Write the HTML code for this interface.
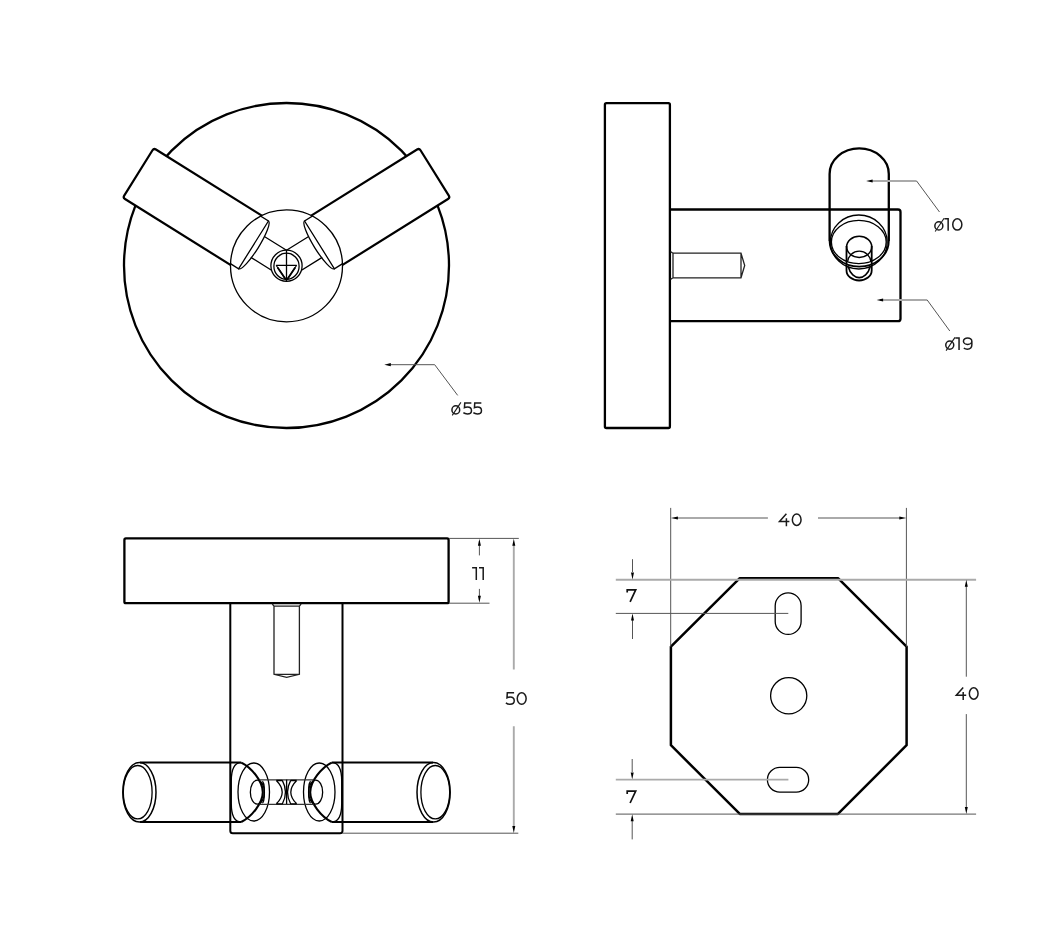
<!DOCTYPE html>
<html><head><meta charset="utf-8">
<style>
html,body{margin:0;padding:0;background:#fff;}
body{width:1045px;height:939px;overflow:hidden;}
svg{display:block;}
text{font-family:"Liberation Sans",sans-serif;fill:#1a1a1a;}
.k{fill:none;stroke:#000;stroke-width:2.3;stroke-linejoin:round;}
.t{fill:none;stroke:#000;stroke-width:1.3;}
.g{fill:none;stroke:#555;stroke-width:1;}
.lg{fill:none;stroke:#aaa;stroke-width:1.9;}
.ah{fill:#000;stroke:none;}
</style></head>
<body>
<svg width="1045" height="939" viewBox="0 0 1045 939">
<defs>
  <clipPath id="inC"><circle cx="286.5" cy="265.8" r="56"/></clipPath>
</defs>

<!-- ============ VIEW 1: top-left ============ -->
<circle class="k" cx="286.5" cy="265.5" r="162.5"/>
<g transform="translate(286.5,265.5) rotate(32)"><path class="k" style="fill:#fff;stroke-width:2.2" d="M-172.2,-29.2 L-38.9,-29.2 L-38.9,29.2 L-172.2,29.2 Q-174.7,29.2 -174.7,26.7 L-174.7,-26.7 Q-174.7,-29.2 -172.2,-29.2 Z"/></g>
<g transform="translate(573,0) scale(-1,1) translate(286.5,265.5) rotate(32)"><path class="k" style="fill:#fff;stroke-width:2.2" d="M-172.2,-29.2 L-38.9,-29.2 L-38.9,29.2 L-172.2,29.2 Q-174.7,29.2 -174.7,26.7 L-174.7,-26.7 Q-174.7,-29.2 -172.2,-29.2 Z"/></g>
<circle cx="286.5" cy="265.8" r="56" fill="#fff"/>
<g clip-path="url(#inC)">
<g transform="translate(286.5,265.5) rotate(32)"><path class="t" d="M-80,-28.15 L-38.9,-28.15 L-38.9,28.15 L-80,28.15"/>
    <path class="t" d="M-38.9,-28.15 A5.5,28.15 0 0 1 -38.9,28.15"/>
    <path class="t" d="M-34.2,-12.9 L0,-12.9 M-34.6,12.0 L-5,12.0"/></g>
<g transform="translate(573,0) scale(-1,1) translate(286.5,265.5) rotate(32)"><path class="t" d="M-80,-28.15 L-38.9,-28.15 L-38.9,28.15 L-80,28.15"/>
    <path class="t" d="M-38.9,-28.15 A5.5,28.15 0 0 1 -38.9,28.15"/>
    <path class="t" d="M-34.2,-12.9 L0,-12.9 M-34.6,12.0 L-5,12.0"/></g>
</g>
<circle class="t" cx="286.5" cy="265.8" r="56"/>
<circle class="t" fill="#fff" style="fill:#fff" cx="286.5" cy="265.7" r="15.6"/>
<ellipse class="t" cx="286.5" cy="266.3" rx="12.6" ry="13.1"/>
<path class="t" d="M286.5,250 V280.6 M276.1,265.3 H296.7"/>
<path class="t" style="stroke-width:1.1" d="M276.1,265.3 L286.4,280.4 L296.7,265.3"/>
<path style="fill:none;stroke:#000;stroke-width:1.8" d="M277.6,267.6 L285.8,279.6 M295.2,267.6 L287.2,279.6"/>
<!-- leader o55 -->
<path class="g" d="M388,364.7 H434.7 L457.7,395.4"/>
<path class="ah" d="M384.3,364.7 L390.8,363.1 L390.8,366.3 Z"/>
<path style="fill:none;stroke:#1a1a1a;stroke-width:1.5;stroke-linecap:butt;stroke-linejoin:miter" d="M451.93,409.89 A3.88,4.02 0 1 1 459.69,409.89 A3.88,4.02 0 1 1 451.93,409.89 Z M 471.34,402.94 L 464.74,402.94 L 464.45,407.69 C 465.42,407.2 466.39,407 467.46,407 C 469.98,407 471.48,408.47 471.48,410.63 C 471.48,412.78 469.79,413.91 467.36,413.91 C 465.81,413.91 464.45,413.47 463.38,412.59 M 481.34,402.94 L 474.74,402.94 L 474.45,407.69 C 475.42,407.2 476.39,407 477.46,407 C 479.98,407 481.48,408.47 481.48,410.63 C 481.48,412.78 479.79,413.91 477.36,413.91 C 475.81,413.91 474.45,413.47 473.38,412.59"/><path style="fill:none;stroke:#1a1a1a;stroke-width:1.1" d="M 460.9,402.4 L 452.27,415.33"/>

<!-- ============ VIEW 2: top-right side ============ -->
<path class="k" d="M606.4,103.2 H668.4 Q669.9,103.2 669.9,104.7 V426.5 Q669.9,428 668.4,428 H606.4 Q604.9,428 604.9,426.5 V104.7 Q604.9,103.2 606.4,103.2 Z"/>
<path class="k" d="M669.9,209.5 H898 Q900.5,209.5 900.5,212 V318.7 Q900.5,321.2 898,321.2 H669.9"/>
<!-- screw -->
<path class="t" style="stroke:#222;stroke-width:1.3" d="M670.5,251.6 L673,253.2 H741 L744.7,265.5 L741,277.8 H673 L670.5,279.4 M673,253.2 V277.8 M741,253.2 V277.8"/>
<!-- cylinder o10 -->
<path class="k" d="M829.6,241 V174 A29.6,25.6 0 0 1 888.8,174 V241"/>
<path class="t" style="stroke-width:1.8" d="M829.6,241 A29.6,25.6 0 0 0 888.8,241"/>
<ellipse class="t" cx="858.8" cy="242" rx="28.4" ry="27"/>
<ellipse class="t" cx="858.8" cy="242" rx="27.4" ry="21.6"/>
<ellipse class="t" style="stroke-width:1.5" cx="859.2" cy="246.8" rx="12.55" ry="10.6"/>
<path class="t" style="stroke-width:1.8" d="M846.5,246 V270.5 A12.6,10 0 0 0 871.7,270.5 V246"/>
<path class="t" d="M847.5,262 A11.8,12 0 0 1 871,262"/>
<path class="t" style="stroke-width:1.6" d="M848.2,266.5 C850,274 855,277.6 859.2,277.6 C863.4,277.6 868.4,274 870.2,266.5"/>
<!-- leaders -->
<path class="lg" d="M870,181 H916.6"/><path class="g" d="M916.6,181 L939.5,212"/>
<path class="ah" d="M866.1,181.0 L872.6,179.4 L872.6,182.6 Z"/>
<path style="fill:none;stroke:#1a1a1a;stroke-width:1.5;stroke-linecap:butt;stroke-linejoin:miter" d="M934.85,225.95 A4,4.1 0 1 1 942.85,225.95 A4,4.1 0 1 1 934.85,225.95 Z M 944.4,218.85 L 948.15,218.85 L 948.15,230.8 M952.75,224.45 A4.55,5.6 0 1 1 961.85,224.45 A4.55,5.6 0 1 1 952.75,224.45 Z"/><path style="fill:none;stroke:#1a1a1a;stroke-width:1.1" d="M 944.1,218.3 L 935.2,231.5"/>
<path class="lg" d="M880,300 H927.2"/><path class="g" d="M927.2,300 L949.8,331"/>
<path class="ah" d="M876.6,300.0 L883.1,298.4 L883.1,301.6 Z"/>
<path style="fill:none;stroke:#1a1a1a;stroke-width:1.5;stroke-linecap:butt;stroke-linejoin:miter" d="M945.75,345.05 A4,4.1 0 1 1 953.75,345.05 A4,4.1 0 1 1 945.75,345.05 Z M 955.3,337.95 L 959.05,337.95 L 959.05,349.9 M 971.85,341.2 A 4.2,3.25 0 1 0 963.45,341.2 A4.2,3.25 0 1 0 971.85,341.2 V344.8 C 971.85,347.6 970,349.15 967.3,349.15 C 966,349.15 964.8,348.8 963.8,348.2"/><path style="fill:none;stroke:#1a1a1a;stroke-width:1.1" d="M 955,337.4 L 946.1,350.6"/>

<!-- ============ VIEW 3: bottom-left front ============ -->
<path class="k" d="M125.9,538.4 H447.1 Q448.6,538.4 448.6,539.9 V601.7 Q448.6,603.2 447.1,603.2 H125.9 Q124.4,603.2 124.4,601.7 V539.9 Q124.4,538.4 125.9,538.4 Z"/>
<path class="k" style="stroke-width:2" d="M230.3,603.2 V830.8 Q230.3,833.3 232.8,833.3 H340 Q342.5,833.3 342.5,830.8 V603.2"/>
<!-- screw -->
<path class="t" style="stroke:#222;stroke-width:1.3" d="M272.3,604 L274,606.2 H299.4 L301.1,604 M274,606.2 V674.3 L286.7,677.4 L299.4,674.3 V606.2 M274,674.3 H299.4"/>
<!-- left cylinder -->
<g id="cylL">
<path class="k" style="stroke-width:2" d="M140,762.6 H241.2 M140,822 H241.2"/>
<ellipse class="t" style="stroke-width:1.5" cx="139.4" cy="792.3" rx="16.6" ry="29.7"/>
<ellipse class="t" cx="137.7" cy="792.2" rx="14.4" ry="26.7"/>
<path class="t" d="M241.2,762.6 C234,762.6 231.3,770 231.3,781 V803.5 C231.3,814.5 234,822 241.2,822"/>
<path class="k" style="stroke-width:2.1" d="M241.2,762.6 C251.5,767.5 262.8,781.5 262.8,792.3 C262.8,803.1 251.5,817 241.2,822"/>
<ellipse class="t" cx="253.75" cy="792" rx="15.75" ry="29"/>
<ellipse class="t" cx="257.35" cy="792.15" rx="7" ry="12"/>
<path class="t" style="stroke-width:1.3" d="M262.2,781.5 A2.2,10.7 0 0 1 262.2,802.9"/>
<path class="t" style="stroke:#333" d="M259.5,779.9 H286.5 M259.5,804.4 H286.5"/>
<path class="t" style="stroke-width:1.3" d="M276.3,780.5 Q288.1,792.2 276.3,803.8 M282.3,780.4 Q288.7,792.2 282.3,804 M276.3,780.5 H282.3 M276.3,803.8 H282.3"/>
</g>
<g transform="translate(573,0) scale(-1,1)"><path class="k" style="stroke-width:2" d="M140,762.6 H241.2 M140,822 H241.2"/>
<ellipse class="t" style="stroke-width:1.5" cx="139.4" cy="792.3" rx="16.6" ry="29.7"/>
<ellipse class="t" cx="137.7" cy="792.2" rx="14.4" ry="26.7"/>
<path class="t" d="M241.2,762.6 C234,762.6 231.3,770 231.3,781 V803.5 C231.3,814.5 234,822 241.2,822"/>
<path class="k" style="stroke-width:2.1" d="M241.2,762.6 C251.5,767.5 262.8,781.5 262.8,792.3 C262.8,803.1 251.5,817 241.2,822"/>
<ellipse class="t" cx="253.75" cy="792" rx="15.75" ry="29"/>
<ellipse class="t" cx="257.35" cy="792.15" rx="7" ry="12"/>
<path class="t" style="stroke-width:1.3" d="M262.2,781.5 A2.2,10.7 0 0 1 262.2,802.9"/>
<path class="t" style="stroke:#333" d="M259.5,779.9 H286.5 M259.5,804.4 H286.5"/>
<path class="t" style="stroke-width:1.3" d="M276.3,780.5 Q288.1,792.2 276.3,803.8 M282.3,780.4 Q288.7,792.2 282.3,804 M276.3,780.5 H282.3 M276.3,803.8 H282.3"/></g>
<path class="t" d="M286.6,779.5 V804.5"/>
<!-- dims 11 / 50 -->
<path class="g" d="M449,538.4 H518.8 M449,603.2 H489.5 M342.5,833.2 H518.3"/>
<path class="g" d="M479.4,541 V555.4 M479.4,588.9 V600"/>
<path class="ah" d="M479.4,538.8 L477.9,545.8 L480.9,545.8 Z M479.4,602.8 L477.9,595.8 L480.9,595.8 Z"/>
<path class="lg" d="M513.8,545 V669.6 M513.8,726.2 V826"/>
<path class="ah" d="M513.8,538.8 L512.3,545.8 L515.3,545.8 Z M513.8,833.0 L512.3,826.0 L515.3,826.0 Z"/>
<path style="fill:none;stroke:#1a1a1a;stroke-width:1.5;stroke-linejoin:miter" d="M472.1,567.8 H476.3 V580 M479.0,567.8 H483.2 V580"/>
<path style="fill:none;stroke:#1a1a1a;stroke-width:1.5;stroke-linecap:butt;stroke-linejoin:miter" d="M 514.1,692.87 L 507.3,692.87 L 507,697.81 C 508,697.3 509,697.1 510.1,697.1 C 512.7,697.1 514.25,698.63 514.25,700.87 C 514.25,703.12 512.5,704.29 510,704.29 C 508.4,704.29 507,703.83 505.9,702.91 M517.25,698.58 A4.45,5.71 0 1 1 526.15,698.58 A4.45,5.71 0 1 1 517.25,698.58 Z"/>

<!-- ============ VIEW 4: bottom-right octagon ============ -->
<path class="k" style="stroke-width:2.5" d="M739.8,578.2 H838 L906.6,646.6 V745.2 L838,813.9 H739.8 L670.9,745.2 V646.6 Z"/>
<rect class="t" x="775.2" y="592.8" width="25.9" height="41.6" rx="12.95" ry="12.95"/>
<circle class="t" cx="788.7" cy="695.8" r="18.1"/>
<rect class="t" x="767.4" y="767.4" width="41.3" height="24.8" rx="12.4" ry="12.4"/>
<!-- dim 40 top -->
<path class="g" d="M670.7,507.9 V646.6 M906.4,507.9 V646.6"/>
<path class="lg" d="M676,518 H767.9 M818,518 H901"/>
<path class="ah" d="M670.9,518.0 L677.9,516.5 L677.9,519.5 Z M906.3,518.0 L899.3,516.5 L899.3,519.5 Z"/>
<path style="fill:none;stroke:#1a1a1a;stroke-width:1.5;stroke-linecap:butt;stroke-linejoin:miter" d="M 786.4,513.81 L 779.5,521.46 H 789.4 M 786.4,518.3 V 526.15 M792.35,519.68 A4.35,5.71 0 1 1 801.05,519.68 A4.35,5.71 0 1 1 792.35,519.68 Z"/>
<!-- dim 40 right -->
<path class="lg" d="M615.8,579.7 H976.1"/>
<path class="g" d="M615.8,814.1 H976.1"/>
<path class="g" d="M966.3,585 V676.7 M966.3,714.1 V808"/>
<path class="ah" d="M966.3,579.8 L964.8,586.8 L967.8,586.8 Z M966.3,814.0 L964.8,807.0 L967.8,807.0 Z"/>
<path style="fill:none;stroke:#1a1a1a;stroke-width:1.5;stroke-linecap:butt;stroke-linejoin:miter" d="M 963.2,687.61 L 956.3,695.26 H 966.2 M 963.2,692.1 V 699.95 M969.35,693.48 A4.35,5.71 0 1 1 978.05,693.48 A4.35,5.71 0 1 1 969.35,693.48 Z"/>
<!-- dim 7 top -->
<path class="g" d="M632.5,559.2 V572 M632.5,620 V639"/>
<path class="ah" d="M632.5,579.6 L631.0,572.6 L634.0,572.6 Z M632.5,613.6 L631.0,620.6 L634.0,620.6 Z"/>
<path class="g" d="M615.8,613.4 H788.3"/>
<path style="fill:none;stroke:#111;stroke-width:1.7;stroke-linejoin:miter" d="M627.2,592.6 V589.8 H635.7 L630.1,601.8"/>
<!-- dim 7 bottom -->
<path class="g" d="M632.2,759 V772 M632.2,821 V839.4"/>
<path class="ah" d="M632.2,779.6 L630.7,772.6 L633.7,772.6 Z M632.2,814.2 L630.7,821.2 L633.7,821.2 Z"/>
<path class="lg" d="M615.8,779.6 H788.4"/>
<path style="fill:none;stroke:#111;stroke-width:1.7;stroke-linejoin:miter" d="M627.2,794 V791.2 H635.7 L630.1,803"/>
</svg>
</body></html>
